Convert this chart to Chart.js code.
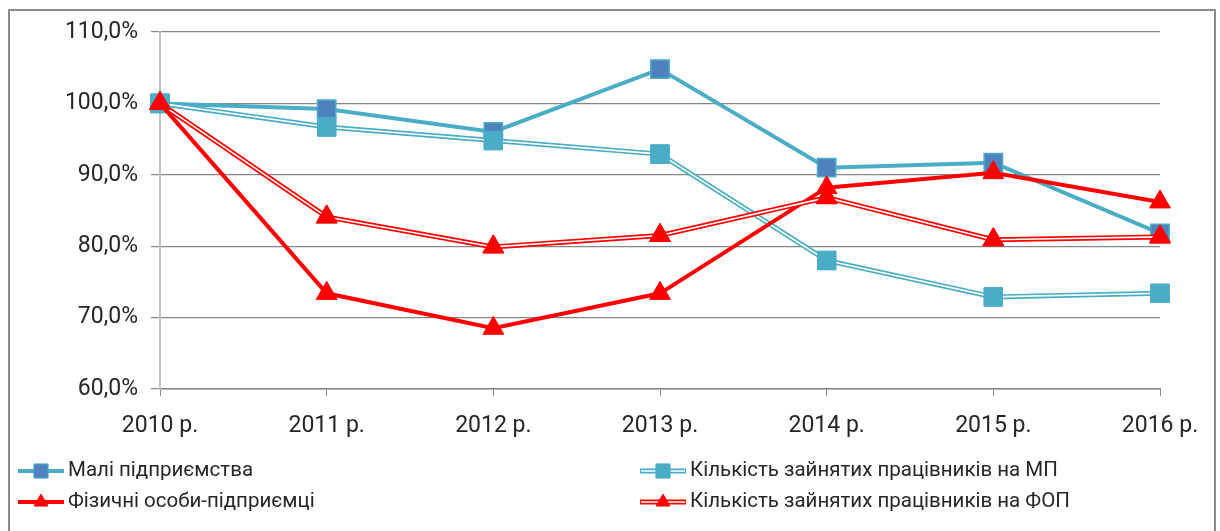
<!DOCTYPE html>
<html>
<head>
<meta charset="utf-8">
<script src="https://cdn.jsdelivr.net/npm/chart.js@4/dist/chart.umd.min.js"></script>
<style>
  html, body { margin: 0; padding: 0; background: #fff; }
  #wrap { width: 1220px; height: 531px; position: relative; }
</style>
</head>
<body>
<div id="wrap"><canvas id="chart" width="1220" height="531"></canvas></div>
<script>
const years = ["2010 р.", "2011 р.", "2012 р.", "2013 р.", "2014 р.", "2015 р.", "2016 р."];

const smallBusiness = [100.0, 99.2, 96.0, 104.8, 91.0, 91.7, 81.8];
const smallBusinessStaff = [100.0, 96.7, 94.8, 92.9, 78.0, 72.9, 73.4];
const entrepreneurs = [100.0, 73.4, 68.5, 73.4, 88.2, 90.3, 86.2];
const entrepreneursStaff = [100.0, 84.1, 79.9, 81.5, 86.8, 80.9, 81.3];

const CYAN = "#4BACC6";
const DARK_BLUE = "#4F81BD";
const RED = "#FF0000";
const FONT = "Roboto, 'Noto Sans', sans-serif";

// Excel "double" lines: white stripe down the middle, then markers again on top
const doubleLinePlugin = {
    id: "doubleLine",
    afterDatasetDraw(chart, args) {
        const ds = chart.data.datasets[args.index];
        if (!ds.double) return;
        const ctx = chart.ctx;
        const pts = args.meta.data;
        ctx.save();
        ctx.strokeStyle = "#fff";
        ctx.lineWidth = 1.6;
        ctx.lineJoin = "round";
        ctx.beginPath();
        pts.forEach((p, i) => i === 0 ? ctx.moveTo(p.x, p.y) : ctx.lineTo(p.x, p.y));
        ctx.stroke();
        ctx.restore();
        pts.forEach(p => p.draw(ctx, chart.chartArea));
    }
};

// frame + two-column legend like the original
const framePlugin = {
    id: "frame",
    beforeDraw(chart) {
        const ctx = chart.ctx;
        ctx.save();
        ctx.fillStyle = "#fff";
        ctx.fillRect(0, 0, chart.width, chart.height);
        ctx.strokeStyle = "#8c8c8c";
        ctx.lineWidth = 2;
        ctx.strokeRect(9, 10, 1206, 600);
        ctx.restore();
    },
    afterDraw(chart) {
        const ctx = chart.ctx;
        const slots = [[18, 471], [640, 471], [18, 502], [640, 502]];
        ctx.save();
        chart.data.datasets.forEach((ds, k) => {
            const [x, y] = slots[k];
            ctx.lineCap = "butt";
            ctx.strokeStyle = ds.borderColor;
            ctx.lineWidth = ds.borderWidth;
            ctx.beginPath();
            ctx.moveTo(x, y);
            ctx.lineTo(x + 46, y);
            ctx.stroke();
            if (ds.double) {
                ctx.strokeStyle = "#fff";
                ctx.lineWidth = 1.6;
                ctx.beginPath();
                ctx.moveTo(x + 1, y);
                ctx.lineTo(x + 45, y);
                ctx.stroke();
            }
            ctx.fillStyle = ds.pointBackgroundColor;
            ctx.strokeStyle = ds.pointBorderColor;
            ctx.lineWidth = 1;
            Chart.helpers.drawPoint(ctx, {
                pointStyle: ds.pointStyle,
                radius: ds.pointStyle === "rect" ? 10 : 8,
                rotation: 0,
                borderWidth: 1
            }, x + 23, y);
            ctx.fillStyle = "#262626";
            ctx.font = "20.5px " + FONT;
            ctx.textBaseline = "middle";
            ctx.textAlign = "left";
            ctx.fillText(ds.label, x + 50, y);
        });
        ctx.restore();
    }
};

new Chart(document.getElementById("chart").getContext("2d"), {
    type: "line",
    data: {
        labels: years,
        datasets: [
            {
                label: "Малі підприємства",
                data: smallBusiness,
                borderColor: CYAN,
                borderWidth: 4,
                pointStyle: "rect",
                pointRadius: 13,
                pointBackgroundColor: DARK_BLUE,
                pointBorderColor: CYAN,
                pointBorderWidth: 1.5,
                tension: 0,
                order: 3,
            },
            {
                label: "Кількість зайнятих працівників на МП",
                data: smallBusinessStaff,
                double: true,
                borderColor: CYAN,
                borderWidth: 5,
                pointStyle: "rect",
                pointRadius: 13,
                pointBackgroundColor: CYAN,
                pointBorderColor: CYAN,
                pointBorderWidth: 1,
                tension: 0,
                order: 2,
            },
            {
                label: "Фізичні особи-підприємці",
                data: entrepreneurs,
                borderColor: RED,
                borderWidth: 4,
                pointStyle: "triangle",
                pointRadius: 12,
                pointBackgroundColor: RED,
                pointBorderColor: RED,
                pointBorderWidth: 1,
                tension: 0,
                order: 1,
            },
            {
                label: "Кількість зайнятих працівників на ФОП",
                data: entrepreneursStaff,
                double: true,
                borderColor: RED,
                borderWidth: 5,
                pointStyle: "triangle",
                pointRadius: 12,
                pointBackgroundColor: RED,
                pointBorderColor: RED,
                pointBorderWidth: 1,
                tension: 0,
                order: 0,
            },
        ],
    },
    options: {
        responsive: false,
        animation: false,
        layout: { padding: { top: 32, right: 60, bottom: 0, left: 0 } },
        plugins: {
            legend: { display: false },
            tooltip: { enabled: false },
        },
        scales: {
            x: {
                offset: false,
                afterFit: (s) => { s.height = 142; },
                grid: {
                    drawOnChartArea: false,
                    drawTicks: true,
                    tickLength: 7,
                    tickColor: "#868686",
                },
                border: { color: "#868686", width: 1.5 },
                ticks: {
                    color: "#262626",
                    padding: 16,
                    maxRotation: 0,
                    font: { family: FONT, size: 23 },
                },
            },
            y: {
                min: 60,
                max: 110,
                afterFit: (s) => { s.width = 160; },
                grid: {
                    color: "#868686",
                    lineWidth: 1.2,
                    tickLength: 9,
                    tickColor: "#868686",
                },
                border: { color: "#c4c4c4", width: 2 },
                ticks: {
                    stepSize: 10,
                    color: "#262626",
                    padding: 13,
                    font: { family: FONT, size: 23 },
                    callback: (v) => v.toFixed(1).replace(".", ",") + "%",
                },
            },
        },
    },
    plugins: [doubleLinePlugin, framePlugin],
});
</script>
</body>
</html>
